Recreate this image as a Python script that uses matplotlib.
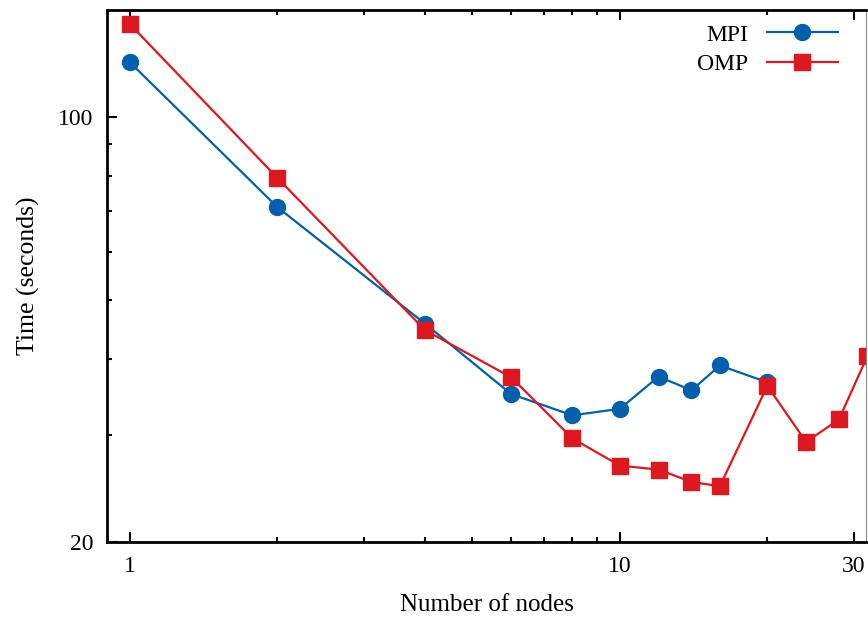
import matplotlib.pyplot as plt
from matplotlib.ticker import FixedLocator, NullFormatter

# nodes and run times (seconds)
mpi_nodes = [1, 2, 4, 6, 8, 10, 12, 14, 16, 20]
mpi_time = [122.8, 71.0, 45.7, 35.0, 32.3, 33.1, 37.4, 35.5, 39.0, 36.6]

omp_nodes = [1, 2, 4, 6, 8, 10, 12, 14, 16, 20, 24, 28, 32]
omp_time = [141.9, 79.3, 44.6, 37.3, 29.6, 26.7, 26.3, 25.1, 24.7, 36.1, 29.2, 31.8, 40.4]

x_ticks = [1, 10, 30]
y_ticks = [20, 100]

plt.rcParams['font.family'] = ['Liberation Serif', 'DejaVu Serif']
plt.rcParams['font.size'] = 17

fig = plt.figure(figsize=(8.68, 6.17), dpi=100)
ax = fig.add_axes([0.1233, 0.1216, 0.8744, 0.8630])

ax.plot(mpi_nodes, mpi_time, color='#0060ad', lw=1.6, marker='o', ms=11.5, label='MPI')
ax.plot(omp_nodes, omp_time, color='#dd181f', lw=1.6, marker='s', ms=11.5, label='OMP')

ax.set_xscale('log')
ax.set_yscale('log')
ax.set_xlim(0.898, 31.8)
ax.set_ylim(20, 150)

ax.xaxis.set_major_locator(FixedLocator(x_ticks))
ax.xaxis.set_ticklabels([str(t) for t in x_ticks])
ax.xaxis.set_minor_locator(FixedLocator([2, 3, 4, 5, 6, 7, 8, 9, 20]))
ax.xaxis.set_minor_formatter(NullFormatter())
ax.yaxis.set_major_locator(FixedLocator(y_ticks))
ax.yaxis.set_ticklabels([str(t) for t in y_ticks])
ax.yaxis.set_minor_locator(FixedLocator([30, 40, 50, 60, 70, 80, 90]))
ax.yaxis.set_minor_formatter(NullFormatter())

ax.tick_params(which='both', direction='in', top=True, right=False, width=1.5)
ax.tick_params(which='major', length=7, pad=10)
ax.tick_params(which='minor', length=3.5)

for s in ['left', 'bottom', 'top']:
    ax.spines[s].set_linewidth(2)
ax.spines['right'].set_linewidth(0.8)
ax.spines['right'].set_color('#888888')

ax.set_xlabel('Number of nodes', fontsize=18, labelpad=12)
ax.set_ylabel('Time (seconds)', fontsize=18.5, labelpad=13)

ax.legend(loc='upper right', bbox_to_anchor=(0.994, 1.017), frameon=False,
          markerfirst=False, handlelength=3.0, handletextpad=0.8,
          labelspacing=0.35, borderaxespad=0.6)

fig.savefig('out.png', dpi=100)
